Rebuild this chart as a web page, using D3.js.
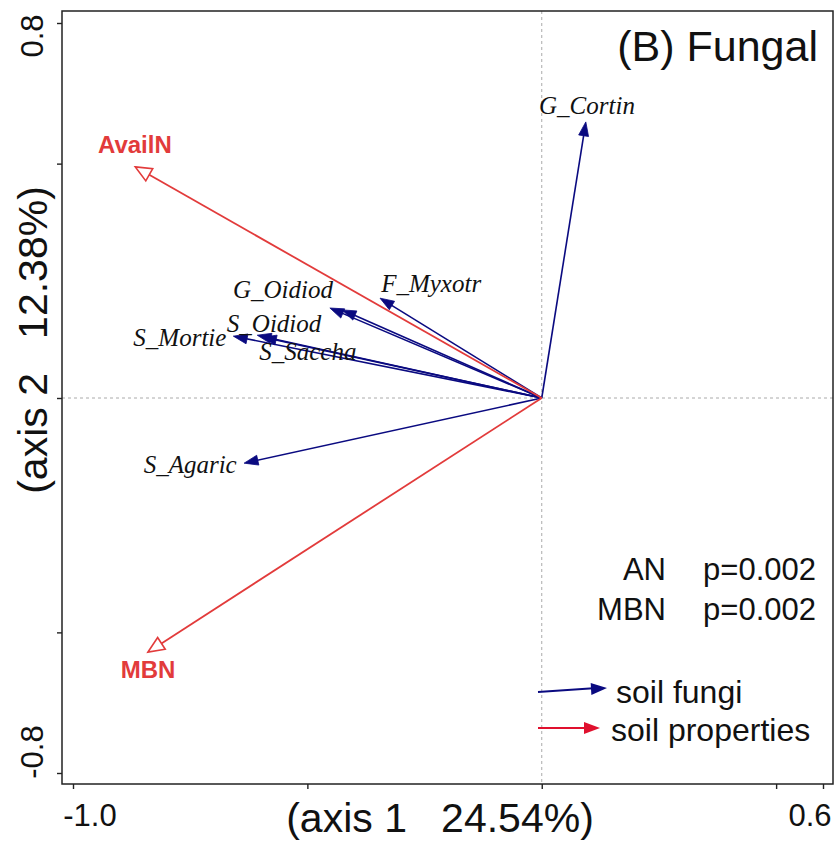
<!DOCTYPE html>
<html>
<head>
<meta charset="utf-8">
<script src="https://cdn.jsdelivr.net/npm/d3@7"></script>
<style>
  html, body { margin: 0; padding: 0; background: #fff; }
  svg { display: block; }
</style>
</head>
<body>
<svg id="chart" width="838" height="844"></svg>
<script>
// ---------------- data ----------------
const fungiNames  = ["G_Cortin", "F_Myxotr", "G_Oidiod", "", "S_Oidiod", "S_Mortie", "S_Saccha", "S_Agaric"];
const fungiAxis1  = [0.094, -0.345, -0.452, -0.426, -0.607, -0.658, -0.596, -0.635];
const fungiAxis2  = [0.589,  0.213,  0.192,  0.188,  0.134,  0.132,  0.130, -0.139];
const fungiLabel1 = [0.0965, -0.236, -0.552, null, -0.571, -0.772, -0.499, -0.750];
const fungiLabel2 = [0.623,   0.243,  0.230, null,  0.158,  0.128,  0.098, -0.143];

const envNames  = ["AvailN", "MBN"];
const envAxis1  = [-0.867, -0.840];
const envAxis2  = [ 0.493, -0.542];
const envLabel1 = [-0.868, -0.840];
const envLabel2 = [ 0.542, -0.578];

const statNames  = ["AN", "MBN"];
const statPvals  = ["p=0.002", "p=0.002"];
const legendNames = ["soil fungi", "soil properties"];

const xTicks = [-1.0, -0.5, 0, 0.5, 0.6];
const yTicks = [-0.8, -0.5, 0, 0.5, 0.8];
const xTickLabels = [{v: -1.0, t: "-1.0"}, {v: 0.6, t: "0.6"}];
const yTickLabels = [{v: 0.8, t: "0.8"}, {v: -0.8, t: "-0.8"}];
const xTitle = "(axis 1   24.54%)";
const yTitle = "(axis 2   12.38%)";
const panelTitle = "(B) Fungal";

// ---------------- layout ----------------
const svg = d3.select("#chart");
const frame = {left: 62, right: 833, top: 11, bottom: 784};
const x = d3.scaleLinear().domain([-1.0, 0.6]).range([73, 823]);
const y = d3.scaleLinear().domain([-0.8, 0.8]).range([773, 23]);

const BLUE = "#0a0a80";
const RED = "#e23b3b";
const RED_LEG = "#e0102e";
const SANS = "Liberation Sans, Arial, Helvetica, sans-serif";
const SERIF = "Liberation Serif, Times New Roman, serif";

// reference dashed lines
svg.append("line")
  .attr("x1", x(0)).attr("x2", x(0))
  .attr("y1", frame.top).attr("y2", frame.bottom)
  .attr("stroke", "#aaa").attr("stroke-width", 1).attr("stroke-dasharray", "3,3");
svg.append("line")
  .attr("x1", frame.left).attr("x2", frame.right)
  .attr("y1", y(0)).attr("y2", y(0))
  .attr("stroke", "#aaa").attr("stroke-width", 1).attr("stroke-dasharray", "3,3");

// axes (ticks only)
const gx = svg.append("g").attr("transform", `translate(0,${frame.bottom})`)
  .call(d3.axisBottom(x).tickValues(xTicks).tickFormat("").tickSize(5).tickSizeOuter(0));
const gy = svg.append("g").attr("transform", `translate(${frame.left},0)`)
  .call(d3.axisLeft(y).tickValues(yTicks).tickFormat("").tickSize(5).tickSizeOuter(0));
[gx, gy].forEach(g => {
  g.select(".domain").remove();
  g.selectAll(".tick line").attr("stroke", "#222").attr("stroke-width", 1.4);
});

// frame
svg.append("rect")
  .attr("x", frame.left).attr("y", frame.top)
  .attr("width", frame.right - frame.left).attr("height", frame.bottom - frame.top)
  .attr("fill", "none").attr("stroke", "#222").attr("stroke-width", 1.5);

// tick labels
svg.selectAll(".xtl").data(xTickLabels).enter().append("text")
  .attr("x", d => x(d.v) + (d.v < 0 ? 17 : -13))
  .attr("y", 826)
  .attr("text-anchor", "middle")
  .attr("font-family", SANS).attr("font-size", 31).attr("fill", "#111")
  .text(d => d.t);
svg.selectAll(".ytl").data(yTickLabels).enter().append("text")
  .attr("transform", d => `translate(43,${y(d.v) + (d.v > 0 ? 13 : -21)}) rotate(-90)`)
  .attr("text-anchor", "middle")
  .attr("font-family", SANS).attr("font-size", 31).attr("fill", "#111")
  .text(d => d.t);

// axis titles
svg.append("text")
  .attr("x", 440).attr("y", 832)
  .attr("text-anchor", "middle")
  .style("white-space", "pre")
  .attr("font-family", SANS).attr("font-size", 41).attr("fill", "#111")
  .text(xTitle);
svg.append("text")
  .attr("transform", "translate(47,340) rotate(-90)")
  .attr("text-anchor", "middle")
  .style("white-space", "pre")
  .attr("font-family", SANS).attr("font-size", 41).attr("fill", "#111")
  .text(yTitle);

// panel title
svg.append("text")
  .attr("x", 818).attr("y", 61)
  .attr("text-anchor", "end")
  .attr("font-family", SANS).attr("font-size", 43).attr("fill", "#111")
  .text(panelTitle);

// arrow helper
function arrowHead(x0, y0, x1, y1, len, half) {
  const dx = x1 - x0, dy = y1 - y0;
  const L = Math.sqrt(dx * dx + dy * dy);
  const ux = dx / L, uy = dy / L;
  const bx = x1 - ux * len, by = y1 - uy * len;
  const px = -uy * half, py = ux * half;
  return [[x1, y1], [bx + px, by + py], [bx - px, by - py]];
}

// fungi arrows
const fungi = fungiNames.map((n, i) => ({
  name: n, a1: fungiAxis1[i], a2: fungiAxis2[i], l1: fungiLabel1[i], l2: fungiLabel2[i]
}));
const fg = svg.append("g");
fungi.forEach(d => {
  const ox = x(0), oy = y(0), tx = x(d.a1), ty = y(d.a2);
  const head = arrowHead(ox, oy, tx, ty, 14, 5);
  const L = Math.hypot(tx - ox, ty - oy);
  fg.append("line")
    .attr("x1", ox).attr("y1", oy)
    .attr("x2", tx - (tx - ox) / L * 8).attr("y2", ty - (ty - oy) / L * 8)
    .attr("stroke", BLUE).attr("stroke-width", 1.6);
  fg.append("polygon").attr("points", head.map(p => p.join(",")).join(" "))
    .attr("fill", BLUE).attr("stroke", BLUE).attr("stroke-width", 0.8);
});
fg.selectAll(".flab").data(fungi.filter(d => d.name !== "")).enter().append("text")
  .attr("x", d => x(d.l1)).attr("y", d => y(d.l2))
  .attr("dy", "0.33em")
  .attr("text-anchor", "middle")
  .attr("font-family", SERIF).attr("font-style", "italic").attr("font-size", 25)
  .attr("fill", "#111")
  .text(d => d.name);

// environment arrows
const env = envNames.map((n, i) => ({
  name: n, a1: envAxis1[i], a2: envAxis2[i], l1: envLabel1[i], l2: envLabel2[i]
}));
const eg = svg.append("g");
env.forEach(d => {
  const ox = x(0), oy = y(0), tx = x(d.a1), ty = y(d.a2);
  const head = arrowHead(ox, oy, tx, ty, 16, 7);
  const L = Math.hypot(tx - ox, ty - oy);
  eg.append("line")
    .attr("x1", ox).attr("y1", oy)
    .attr("x2", tx - (tx - ox) / L * 16).attr("y2", ty - (ty - oy) / L * 16)
    .attr("stroke", RED).attr("stroke-width", 1.8);
  eg.append("polygon").attr("points", head.map(p => p.join(",")).join(" "))
    .attr("fill", "#fff").attr("stroke", RED).attr("stroke-width", 1.6);
});
eg.selectAll(".elab").data(env).enter().append("text")
  .attr("x", d => x(d.l1)).attr("y", d => y(d.l2))
  .attr("dy", "0.36em")
  .attr("text-anchor", "middle")
  .attr("font-family", SANS).attr("font-weight", "bold").attr("font-size", 24)
  .attr("fill", RED)
  .text(d => d.name);

// statistics
const sg = svg.append("g");
statNames.forEach((n, i) => {
  sg.append("text").attr("x", 666).attr("y", 580 + i * 40)
    .attr("text-anchor", "end").attr("font-family", SANS).attr("font-size", 31).attr("fill", "#111")
    .text(n);
  sg.append("text").attr("x", 816).attr("y", 580 + i * 40)
    .attr("text-anchor", "end").attr("font-family", SANS).attr("font-size", 31).attr("fill", "#111")
    .text(statPvals[i]);
});

// legend
const lg = svg.append("g");
const legColors = [BLUE, RED_LEG];
legendNames.forEach((n, i) => {
  const yy = 690 + i * 38;
  const x0 = 538, x1 = i === 0 ? 607 : 600;
  const y0 = i === 0 ? yy + 2 : yy, y1 = i === 0 ? yy - 2 : yy;
  const head = arrowHead(x0, y0, x1, y1, 16, 6);
  lg.append("line").attr("x1", x0).attr("y1", y0).attr("x2", x1 - 10).attr("y2", y1)
    .attr("stroke", legColors[i]).attr("stroke-width", 1.8);
  lg.append("polygon").attr("points", head.map(p => p.join(",")).join(" "))
    .attr("fill", legColors[i]);
  lg.append("text").attr("x", i === 0 ? 616 : 611).attr("y", yy + 13)
    .attr("font-family", SANS).attr("font-size", 32).attr("fill", "#111")
    .text(n);
});
</script>
</body>
</html>
